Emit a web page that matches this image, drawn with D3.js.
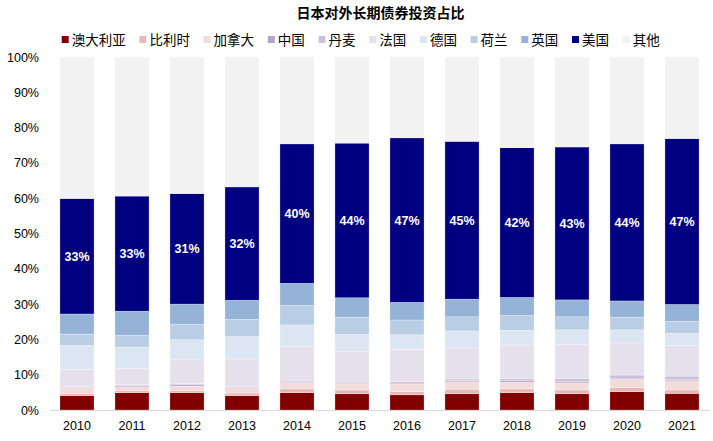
<!DOCTYPE html>
<html>
<head>
<meta charset="utf-8">
<script src="https://cdn.jsdelivr.net/npm/d3@7"></script>
<style>
  body { margin: 0; background: #fff; }
  svg { font-family: "Liberation Sans", Arial, "Noto Sans CJK SC", sans-serif; }
</style>
</head>
<body>
<div id="drawhere"></div>
<script>
// years on the x axis
var years = ["2010","2011","2012","2013","2014","2015","2016","2017","2018","2019","2020","2021"];

// share of each country, in %
var australia = [4.05, 4.9, 4.9, 4.05, 4.9, 4.6, 4.3, 4.6, 4.9, 4.6, 5.2, 4.7];
var belgium   = [0.55, 0.6, 0.6, 0.75, 1.1, 1.1, 0.9, 1.3, 1.1, 1.1, 1.2, 1.0];
var canada    = [1.6, 1.1, 1.3, 1.5, 1.6, 1.7, 2.2, 2.1, 1.9, 2.0, 2.3, 2.6];
var china     = [0.2, 0.3, 0.35, 0.2, 0.2, 0.2, 0.25, 0.3, 0.4, 0.4, 0.3, 0.3];
var denmark   = [0.2, 0.3, 0.35, 0.2, 0.4, 0.3, 0.35, 0.5, 0.6, 0.8, 0.9, 1.0];
var france    = [4.9, 4.6, 6.7, 7.8, 9.8, 8.6, 9.2, 8.8, 9.5, 9.7, 9.1, 8.6];
var germany   = [6.8, 6.0, 5.7, 6.3, 6.1, 4.9, 4.1, 4.8, 4.2, 4.1, 3.7, 3.5];
var netherlands = [3.2, 3.4, 4.4, 4.9, 5.5, 4.9, 4.2, 4.0, 4.2, 3.7, 3.6, 3.4];
var uk        = [5.7, 6.8, 5.7, 5.4, 6.3, 5.5, 5.0, 5.0, 5.1, 4.8, 4.6, 4.8];
var usa       = [32.7, 32.6, 31.3, 32.1, 39.5, 43.8, 46.6, 44.7, 42.4, 43.3, 44.5, 47.0];
var others    = [40.1, 39.4, 38.7, 36.8, 24.6, 24.4, 22.9, 23.9, 25.7, 25.5, 24.6, 23.1];

// labels shown on the US segment
var usaLabels = ["33%","33%","31%","32%","40%","44%","47%","45%","42%","43%","44%","47%"];

var seriesNames = ["澳大利亚","比利时","加拿大","中国","丹麦","法国","德国","荷兰","英国","美国","其他"];
var seriesValues = [australia, belgium, canada, china, denmark, france, germany, netherlands, uk, usa, others];
var seriesColors = ["#800000","#e6b9b8","#f2dcdb","#b3a2c7","#ccc1da","#e6e0ec","#dce6f2","#b9cde5","#95b3d7","#000080","#f2f2f2"];

var yTicks = [0,10,20,30,40,50,60,70,80,90,100];

function drawChart() {
    var width = 713, height = 441;
    var left = 49.5, right = 709.5, top = 57, bottom = 410;

    var svg = d3.select("#drawhere").append("svg")
        .attr("width", width)
        .attr("height", height);

    // rows for the stack
    var rows = years.map(function (y, i) {
        var r = { year: y };
        seriesNames.forEach(function (n, k) { r[n] = seriesValues[k][i]; });
        return r;
    });
    var stacked = d3.stack().keys(seriesNames)(rows);

    var x = d3.scaleBand()
        .domain(years)
        .range([left, right])
        .paddingInner(0.38)
        .paddingOuter(0.19);

    var y = d3.scaleLinear()
        .domain([0, 100])
        .range([bottom, top]);

    // title
    svg.append("text")
        .attr("x", (left + right) / 2 + 1)
        .attr("y", 18)
        .attr("text-anchor", "middle")
        .attr("font-size", 14)
        .attr("font-weight", "bold")
        .attr("fill", "#000")
        .text("日本对外长期债券投资占比");

    // legend
    var lx = 61.7;
    seriesNames.forEach(function (n, k) {
        svg.append("rect")
            .attr("x", lx)
            .attr("y", 36)
            .attr("width", 7)
            .attr("height", 7)
            .attr("fill", seriesColors[k]);
        var t = svg.append("text")
            .attr("x", lx + 10)
            .attr("y", 45)
            .attr("font-size", 13.5)
            .attr("fill", "#000")
            .text(n);
        lx += 10 + t.node().getComputedTextLength() + 13.7;
    });

    // bars
    var groups = svg.append("g").selectAll("g")
        .data(stacked)
        .enter().append("g")
        .attr("fill", function (d, k) { return seriesColors[k]; });

    groups.selectAll("rect")
        .data(function (d) { return d; })
        .enter().append("rect")
        .attr("x", function (d) { return x(d.data.year); })
        .attr("y", function (d) { return y(d[1]); })
        .attr("width", x.bandwidth())
        .attr("height", function (d) { return y(d[0]) - y(d[1]); })
        .attr("stroke", "#ffffff")
        .attr("stroke-opacity", 0.45)
        .attr("stroke-width", 0.6);

    // US labels
    var usLayer = stacked[seriesNames.indexOf("美国")];
    svg.append("g").selectAll("text")
        .data(usLayer)
        .enter().append("text")
        .attr("x", function (d) { return x(d.data.year) + x.bandwidth() / 2; })
        .attr("y", function (d) { return y((d[0] + d[1]) / 2) + 4.5; })
        .attr("text-anchor", "middle")
        .attr("font-size", 12.5)
        .attr("font-weight", "bold")
        .attr("fill", "#fff")
        .text(function (d, i) { return usaLabels[i]; });

    // y axis
    var yAxis = svg.append("g")
        .attr("transform", "translate(" + 39 + ",0)")
        .call(d3.axisLeft(y).tickValues(yTicks).tickSize(0).tickPadding(0)
            .tickFormat(function (d) { return d + "%"; }));
    yAxis.select(".domain").remove();
    yAxis.selectAll("text").attr("font-size", 12.5).attr("fill", "#000")
        .attr("font-family", "'Liberation Sans', Arial, sans-serif");

    // x axis
    var xAxis = svg.append("g")
        .attr("transform", "translate(0," + bottom + ")")
        .call(d3.axisBottom(x).tickSize(0).tickPadding(11));
    xAxis.select(".domain").attr("stroke", "#d9d9d9").attr("stroke-width", 1);
    xAxis.selectAll("text").attr("font-size", 12.5).attr("fill", "#000")
        .attr("font-family", "'Liberation Sans', Arial, sans-serif");
}

drawChart();
</script>
</body>
</html>
